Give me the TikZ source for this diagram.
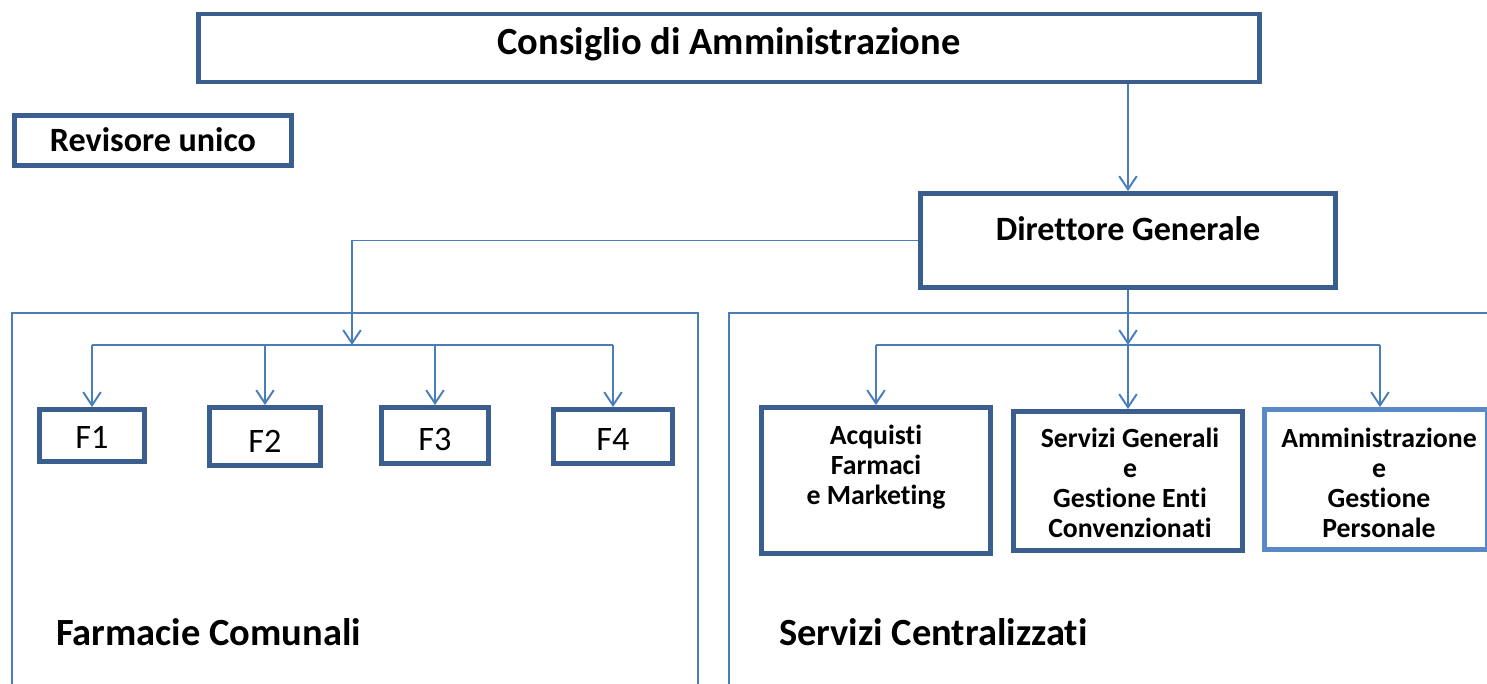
\documentclass[tikz,border=0pt]{standalone}
\usepackage{fontspec}
\setmainfont{Carlito}[Ligatures={NoCommon,NoContextual}]
\usetikzlibrary{arrows.meta}
\definecolor{boxblue}{HTML}{3A5F8E}
\definecolor{lineblue}{HTML}{4A7EBB}
\definecolor{lightbox}{HTML}{5A8AC6}
\tikzset{
  pbox/.style={draw=boxblue, line width=2.8pt, rectangle, inner sep=0pt, fill=white},
  conn/.style={draw=lineblue, line width=1.1pt},
  arr/.style={conn, -{Straight Barb[length=7.5pt,width=10pt,line width=1.1pt]}},
  frame/.style={draw=lineblue, line width=0.7pt},
  ttl/.style={font=\bfseries\fontsize{21.9}{24}\selectfont},
  mid/.style={font=\bfseries\fontsize{19.4}{22}\selectfont},
  fnum/.style={font=\fontsize{19.5}{22}\selectfont},
  small/.style={font=\bfseries\fontsize{15.8}{17}\selectfont, align=center},
}
\begin{document}
\begin{tikzpicture}[x=0.02cm,y=-0.02cm]
\useasboundingbox (0,0) rectangle (1487,683);
% containers
\draw[frame] (12,690) -- (12,313) -- (698,313) -- (698,690);
\draw[frame] (729,690) -- (729,313) -- (1495,313);
% boxes
\node[pbox, minimum width=21.22cm, minimum height=1.36cm] (cda) at (729,48) {};
\node[ttl] at (729,44) {Consiglio di Amministrazione};
\node[pbox, minimum width=5.54cm, minimum height=1.0cm] (rev) at (153,140.5) {};
\node[mid] at (153,140) {Revisore unico};
\node[pbox, minimum width=8.3cm, minimum height=1.88cm] (dg) at (1128,240.5) {};
\node[mid] at (1128,229) {Direttore Generale};
% F boxes
\node[pbox, minimum width=2.1cm, minimum height=1.04cm] (f1) at (92,435.5) {};
\node[fnum] at (92,437) {F1};
\node[pbox, minimum width=2.22cm, minimum height=1.16cm] (f2) at (265,436.5) {};
\node[fnum] at (265,441) {F2};
\node[pbox, minimum width=2.14cm, minimum height=1.12cm] (f3) at (435,435.5) {};
\node[fnum] at (435,439) {F3};
\node[pbox, minimum width=2.38cm, minimum height=1.08cm] (f4) at (613,436.5) {};
\node[fnum] at (613,439) {F4};
% service boxes
\node[pbox, minimum width=4.58cm, minimum height=2.92cm] (acq) at (876,480.5) {};
\node[small] at (876,467) {Acquisti\\Farmaci\\e Marketing};
\node[pbox, minimum width=4.58cm, minimum height=2.78cm] (sg) at (1128,481) {};
\node[small] at (1130,483) {Servizi Generali\\e\\Gestione Enti\\Convenzionati};
\node[pbox, draw=lightbox, minimum width=4.46cm, minimum height=2.8cm] (amm) at (1376,479.5) {};
\node[small] at (1379,483) {Amministrazione\\e\\Gestione\\Personale};
% section labels
\node[ttl, anchor=west] at (50,632) {Farmacie Comunali};
\node[ttl, anchor=west] at (773,632) {Servizi Centralizzati};
% connectors
\coordinate (lbus) at (352,345);
\coordinate (rbus) at (1128,345);
\draw[arr] (dg.north |- cda.south) -- (dg.north);
\draw[arr] (dg.west) -| (lbus);
\draw[conn] (f1.north |- lbus) -- (f4.north |- lbus);
\foreach \n in {f1,f2,f3,f4} \draw[arr] (\n.north |- lbus) -- (\n.north);
\draw[arr] (dg.south) -- (rbus);
\draw[conn] (acq.north |- rbus) -- ([xshift=0.08cm]amm.north |- rbus);
\draw[arr] (acq.north |- rbus) -- (acq.north);
\draw[arr] (sg.north |- rbus) -- (sg.north);
\draw[arr] ([xshift=0.08cm]amm.north |- rbus) -- ([xshift=0.08cm]amm.north);
\end{tikzpicture}
\end{document}
